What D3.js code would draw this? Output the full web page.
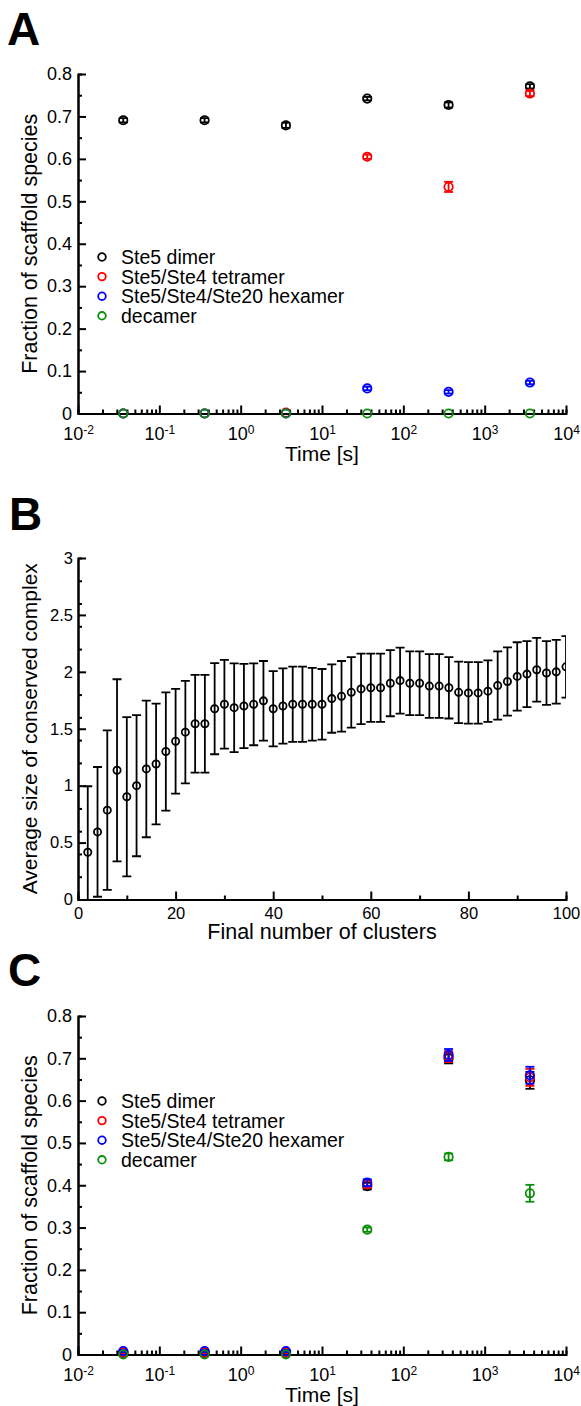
<!DOCTYPE html>
<html>
<head>
<meta charset="utf-8">
<script src="https://cdn.jsdelivr.net/npm/d3@7"></script>
<style>
body { margin: 0; background: #fff; }
svg { display: block; font-family: "Liberation Sans", Arial, sans-serif; }
</style>
</head>
<body>
<svg width="581" height="1406"></svg>
<script>
// time points (s), shared by panels A and C
var times = [0.036, 0.36, 3.6, 36, 360, 3600];
var seriesNames = ['Ste5 dimer', 'Ste5/Ste4 tetramer', 'Ste5/Ste4/Ste20 hexamer', 'decamer'];
var seriesColors = ['#000000', '#ff0000', '#0000ff', '#0a8f0a'];

// panel A
var aDimer       = [0.691, 0.691, 0.679, 0.742, 0.727, 0.771];
var aDimerErr    = [0.005, 0.005, 0.006, 0.004, 0.006, 0.005];
var aTetramer    = [0, 0, 0.002, 0.605, 0.534, 0.754];
var aTetramerErr = [0, 0, 0, 0.005, 0.012, 0.006];
var aHexamer     = [0, 0, 0, 0.059, 0.051, 0.073];
var aHexamerErr  = [0, 0, 0, 0.004, 0.004, 0.004];
var aDecamer     = [0, 0, 0, 0, 0, 0];
var aDecamerErr  = [0, 0, 0, 0, 0, 0];

// panel C
var cDimer       = [0.004, 0.004, 0.004, 0.398, 0.700, 0.648];
var cDimerErr    = [0.002, 0.002, 0.002, 0.008, 0.012, 0.020];
var cTetramer    = [0.005, 0.005, 0.005, 0.402, 0.704, 0.655];
var cTetramerErr = [0.002, 0.002, 0.002, 0.008, 0.013, 0.020];
var cHexamer     = [0.008, 0.008, 0.008, 0.406, 0.708, 0.660];
var cHexamerErr  = [0.002, 0.002, 0.002, 0.008, 0.014, 0.020];
var cDecamer     = [0, 0, 0, 0.295, 0.467, 0.381];
var cDecamerErr  = [0, 0, 0, 0.005, 0.008, 0.020];

// panel B
var bClusters = [2,4,6,8,10,12,14,16,18,20,22,24,26,28,30,32,34,36,38,40,42,44,46,48,50,
                 52,54,56,58,60,62,64,66,68,70,72,74,76,78,80,82,84,86,88,90,92,94,96,98,100];
var bMean = [0.415,0.594,0.785,1.135,0.903,1.0,1.147,1.19,1.3,1.39,1.47,1.544,1.544,1.676,1.715,
             1.685,1.70,1.715,1.745,1.676,1.70,1.715,1.715,1.715,1.715,1.765,1.785,1.82,1.85,1.86,
             1.86,1.90,1.923,1.90,1.90,1.875,1.875,1.86,1.82,1.815,1.815,1.83,1.88,1.915,1.96,
             1.98,2.018,1.99,2.0,2.044];
var bErr = [0.58,0.57,0.70,0.80,0.70,0.62,0.60,0.53,0.52,0.46,0.45,0.43,0.43,0.40,0.39,0.39,0.37,
            0.36,0.35,0.33,0.33,0.33,0.33,0.32,0.31,0.30,0.31,0.31,0.31,0.30,0.30,0.29,0.29,0.28,
            0.28,0.28,0.28,0.27,0.27,0.27,0.27,0.27,0.30,0.30,0.30,0.29,0.28,0.28,0.28,0.27];

var svg = d3.select('svg');
var left = 78, right = 566;

function styleAxis(sel, fontSize) {
	sel.attr('font-size', fontSize).attr('font-family', null);
	sel.selectAll('path, line').attr('stroke', '#000').attr('stroke-width', 2);
	sel.selectAll('text').attr('fill', '#000');
}

function panelLabel(txt, x, y) {
	svg.append('text').text(txt)
		.attr('x', x).attr('y', y)
		.attr('font-size', 46).attr('font-weight', 'bold');
}

function errorMarks(g, pts, x, y, color, r, cap) {
	var s = g.append('g').attr('stroke', color).attr('fill', 'none').attr('stroke-width', 1.8);
	pts.forEach(function(p){
		if (p.e > 0) {
			s.append('line').attr('x1', x(p.x)).attr('x2', x(p.x))
				.attr('y1', y(p.v - p.e)).attr('y2', y(p.v + p.e));
			[p.v - p.e, p.v + p.e].forEach(function(v){
				s.append('line').attr('x1', x(p.x) - cap).attr('x2', x(p.x) + cap)
					.attr('y1', y(v)).attr('y2', y(v));
			});
		}
		s.append('circle').attr('cx', x(p.x)).attr('cy', y(p.v)).attr('r', r);
	});
}

function logPanel(top, bottom, vals, errs, legendY) {
	var g = svg.append('g');
	var x = d3.scaleLog().domain([1e-2, 1e4]).range([left, right]);
	var y = d3.scaleLinear().domain([0, 0.8]).range([bottom, top]);

	var decades = [1e-2, 1e-1, 1, 1e1, 1e2, 1e3, 1e4];
	var minorX = x.ticks().filter(function(t){ return decades.indexOf(t) < 0; });
	var majorY = y.ticks(8);
	var minorY = y.ticks(16).filter(function(t){ return Math.abs(Math.round(t*10) - t*10) > 1e-6; });

	g.append('g').attr('transform', 'translate(0,' + bottom + ')')
		.call(d3.axisBottom(x).tickValues(minorX).tickSize(-4).tickFormat(''))
		.call(styleAxis, 18);
	var xa = g.append('g').attr('transform', 'translate(0,' + bottom + ')')
		.call(d3.axisBottom(x).tickValues(decades).tickSize(-8).tickSizeOuter(0).tickPadding(14))
		.call(styleAxis, 18);
	xa.selectAll('.tick text').each(function(d){
		var t = d3.select(this).text('');
		t.append('tspan').text('10');
		t.append('tspan').attr('dy', '-0.55em').attr('font-size', 12).text(Math.round(Math.log10(d)));
	});

	g.append('g').attr('transform', 'translate(' + left + ',0)')
		.call(d3.axisLeft(y).tickValues(minorY).tickSize(-4).tickFormat(''))
		.call(styleAxis, 18);
	g.append('g').attr('transform', 'translate(' + left + ',0)')
		.call(d3.axisLeft(y).tickValues(majorY).tickSize(-8).tickSizeOuter(0).tickPadding(6)
			.tickFormat(function(d){ return d === 0 ? '0' : d3.format('.1f')(d); }))
		.call(styleAxis, 18);

	g.append('text').text('Time [s]')
		.attr('x', (left + right) / 2).attr('y', bottom + 47)
		.attr('text-anchor', 'middle').attr('font-size', 21);
	g.append('text').text('Fraction of scaffold species')
		.attr('transform', 'translate(37,' + ((top + bottom) / 2) + ') rotate(-90)')
		.attr('text-anchor', 'middle').attr('font-size', 21.5);

	vals.forEach(function(series, k){
		var pts = series.map(function(v, i){ return {x: times[i], v: v, e: errs[k][i]}; });
		errorMarks(g, pts, x, y, seriesColors[k], 4.2, 4.5);
	});

	// legend
	seriesNames.forEach(function(name, k){
		var ly = legendY + k * 19.6;
		g.append('circle').attr('cx', 102).attr('cy', ly).attr('r', 3.8)
			.attr('fill', 'none').attr('stroke', seriesColors[k]).attr('stroke-width', 1.8);
		g.append('text').text(name).attr('x', 121).attr('y', ly + 7).attr('font-size', 19.5);
	});
}

function linPanel(top, bottom) {
	var g = svg.append('g');
	var x = d3.scaleLinear().domain([0, 100]).range([left, right]);
	var y = d3.scaleLinear().domain([0, 3]).range([bottom, top]);

	svg.append('clipPath').attr('id', 'clipB').append('rect')
		.attr('x', left).attr('y', top).attr('width', right - left).attr('height', bottom - top);

	var majorX = x.ticks(5);
	var minorX = x.ticks(10).filter(function(t){ return majorX.indexOf(t) < 0; });
	var majorY = y.ticks(6);
	var minorY = y.ticks(12).filter(function(t){ return majorY.indexOf(t) < 0; });

	g.append('g').attr('transform', 'translate(0,' + bottom + ')')
		.call(d3.axisBottom(x).tickValues(minorX).tickSize(-4).tickFormat(''))
		.call(styleAxis, 16.5);
	g.append('g').attr('transform', 'translate(0,' + bottom + ')')
		.call(d3.axisBottom(x).tickValues(majorX).tickSize(-8).tickSizeOuter(0).tickPadding(8))
		.call(styleAxis, 16.5);
	g.append('g').attr('transform', 'translate(' + left + ',0)')
		.call(d3.axisLeft(y).tickValues(minorY).tickSize(-4).tickFormat(''))
		.call(styleAxis, 16.5);
	g.append('g').attr('transform', 'translate(' + left + ',0)')
		.call(d3.axisLeft(y).tickValues(majorY).tickSize(-8).tickSizeOuter(0).tickPadding(5)
			.tickFormat(d3.format('~g')))
		.call(styleAxis, 16.5);

	g.append('text').text('Final number of clusters')
		.attr('x', (left + right) / 2).attr('y', bottom + 39)
		.attr('text-anchor', 'middle').attr('font-size', 21.5);
	g.append('text').text('Average size of conserved complex')
		.attr('transform', 'translate(37,' + ((top + bottom) / 2) + ') rotate(-90)')
		.attr('text-anchor', 'middle').attr('font-size', 21);

	var pts = bClusters.map(function(c, i){ return {x: c, v: bMean[i], e: bErr[i]}; });
	var pg = g.append('g').attr('clip-path', 'url(#clipB)');
	errorMarks(pg, pts, x, y, '#000', 3.6, 4.5);
}

panelLabel('A', 7, 45);
logPanel(74, 413.5,
	[aDimer, aTetramer, aHexamer, aDecamer],
	[aDimerErr, aTetramerErr, aHexamerErr, aDecamerErr], 257);

panelLabel('B', 9, 530);
linPanel(558, 899.5);

panelLabel('C', 8, 986);
logPanel(1016, 1354.5,
	[cDimer, cTetramer, cHexamer, cDecamer],
	[cDimerErr, cTetramerErr, cHexamerErr, cDecamerErr], 1101);
</script>
</body>
</html>
